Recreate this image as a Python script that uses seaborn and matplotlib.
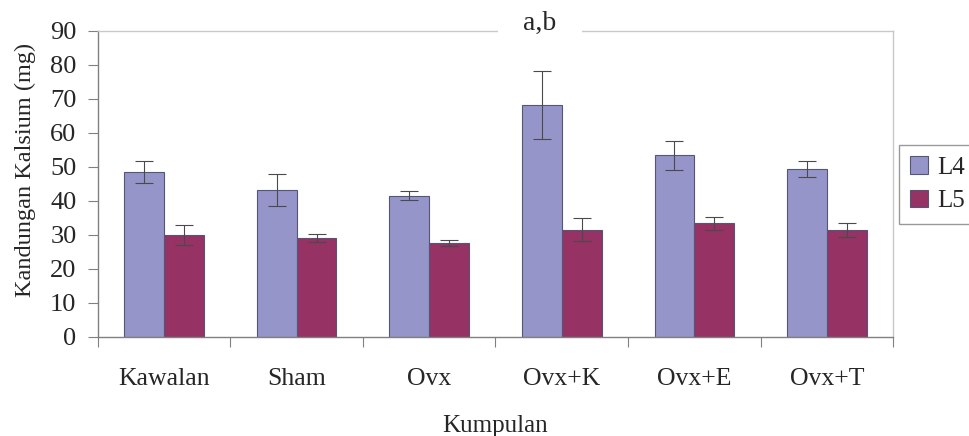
import numpy as np
import pandas as pd
import matplotlib
matplotlib.use("Agg")
import matplotlib.pyplot as plt
import seaborn as sns

# data
groups = ["Kawalan", "Sham", "Ovx", "Ovx+K", "Ovx+E", "Ovx+T"]
l4_mean = [48.5, 43.2, 41.6, 68.1, 53.4, 49.4]
l4_err = [3.2, 4.8, 1.4, 10.0, 4.2, 2.3]
l5_mean = [30.0, 29.1, 27.6, 31.5, 33.4, 31.5]
l5_err = [3.0, 1.3, 0.8, 3.4, 2.0, 2.0]
series = ["L4", "L5"]
colors = ["#9595c9", "#963264"]

df = pd.DataFrame({
    "Kumpulan": groups * 2,
    "Siri": ["L4"] * len(groups) + ["L5"] * len(groups),
    "Nilai": l4_mean + l5_mean,
})

sns.set_style("white")
plt.rcParams["font.family"] = ["Liberation Serif", "DejaVu Serif"]

fig = plt.figure(figsize=(9.69, 4.36), dpi=100)
ax = fig.add_axes([0.1011, 0.2271, 0.8205, 0.7018])

sns.barplot(data=df, x="Kumpulan", y="Nilai", hue="Siri", order=groups,
            hue_order=series, palette=colors, width=0.6, saturation=1,
            edgecolor="#555577", linewidth=0.8, errorbar=None, ax=ax)

# error bars on top of the bars
for cont, errs in zip(ax.containers, [l4_err, l5_err]):
    xs = [p.get_x() + p.get_width() / 2 for p in cont.patches]
    hs = [p.get_height() for p in cont.patches]
    ax.errorbar(xs, hs, yerr=errs, fmt="none", ecolor="#4a4a4a",
                elinewidth=0.8, capsize=6.5, capthick=0.8, zorder=5)

ax.set_xlim(-0.5, len(groups) - 0.5)
ax.set_ylim(0, 90)
ax.set_yticks(range(0, 91, 10))
ax.set_xticks(np.arange(-0.5, len(groups), 1.0), minor=True)
ax.set_xticks(range(len(groups)))
ax.set_xticklabels(groups)

ax.tick_params(axis="y", which="major", direction="out", length=7.5, width=0.8,
               color="#808080", labelsize=19, pad=8, left=True)
ax.tick_params(axis="x", which="major", length=0, labelsize=18.5, pad=22)
ax.tick_params(axis="x", which="minor", direction="out", length=7, width=0.8,
               color="#808080", bottom=True)

for side in ["left", "bottom"]:
    ax.spines[side].set_color("#808080")
    ax.spines[side].set_linewidth(1.0)
for side in ["top", "right"]:
    ax.spines[side].set_color("#c8c8c8")
    ax.spines[side].set_linewidth(1.0)

ax.set_xlabel("Kumpulan", fontsize=18, labelpad=18)
ax.set_ylabel("Kandungan Kalsium (mg)", fontsize=17.5)
ax.yaxis.set_label_coords(-0.078, 0.546)

# annotation covering the top border
ax.text(0.556, 1.025, "a,b", transform=ax.transAxes, ha="center", va="center",
        fontsize=20, bbox=dict(facecolor="white", edgecolor="none",
                               boxstyle="square,pad=0.9"), zorder=10, clip_on=False)

ax.legend(loc="upper left", bbox_to_anchor=(0.928, 0.668),
          bbox_transform=fig.transFigure, frameon=True,
          fontsize=18, handlelength=0.7, handleheight=0.7, handletextpad=0.35,
          borderpad=0.45, borderaxespad=0, labelspacing=0.45,
          edgecolor="#808080", fancybox=False, title=None)

fig.savefig("out.png", dpi=100)
